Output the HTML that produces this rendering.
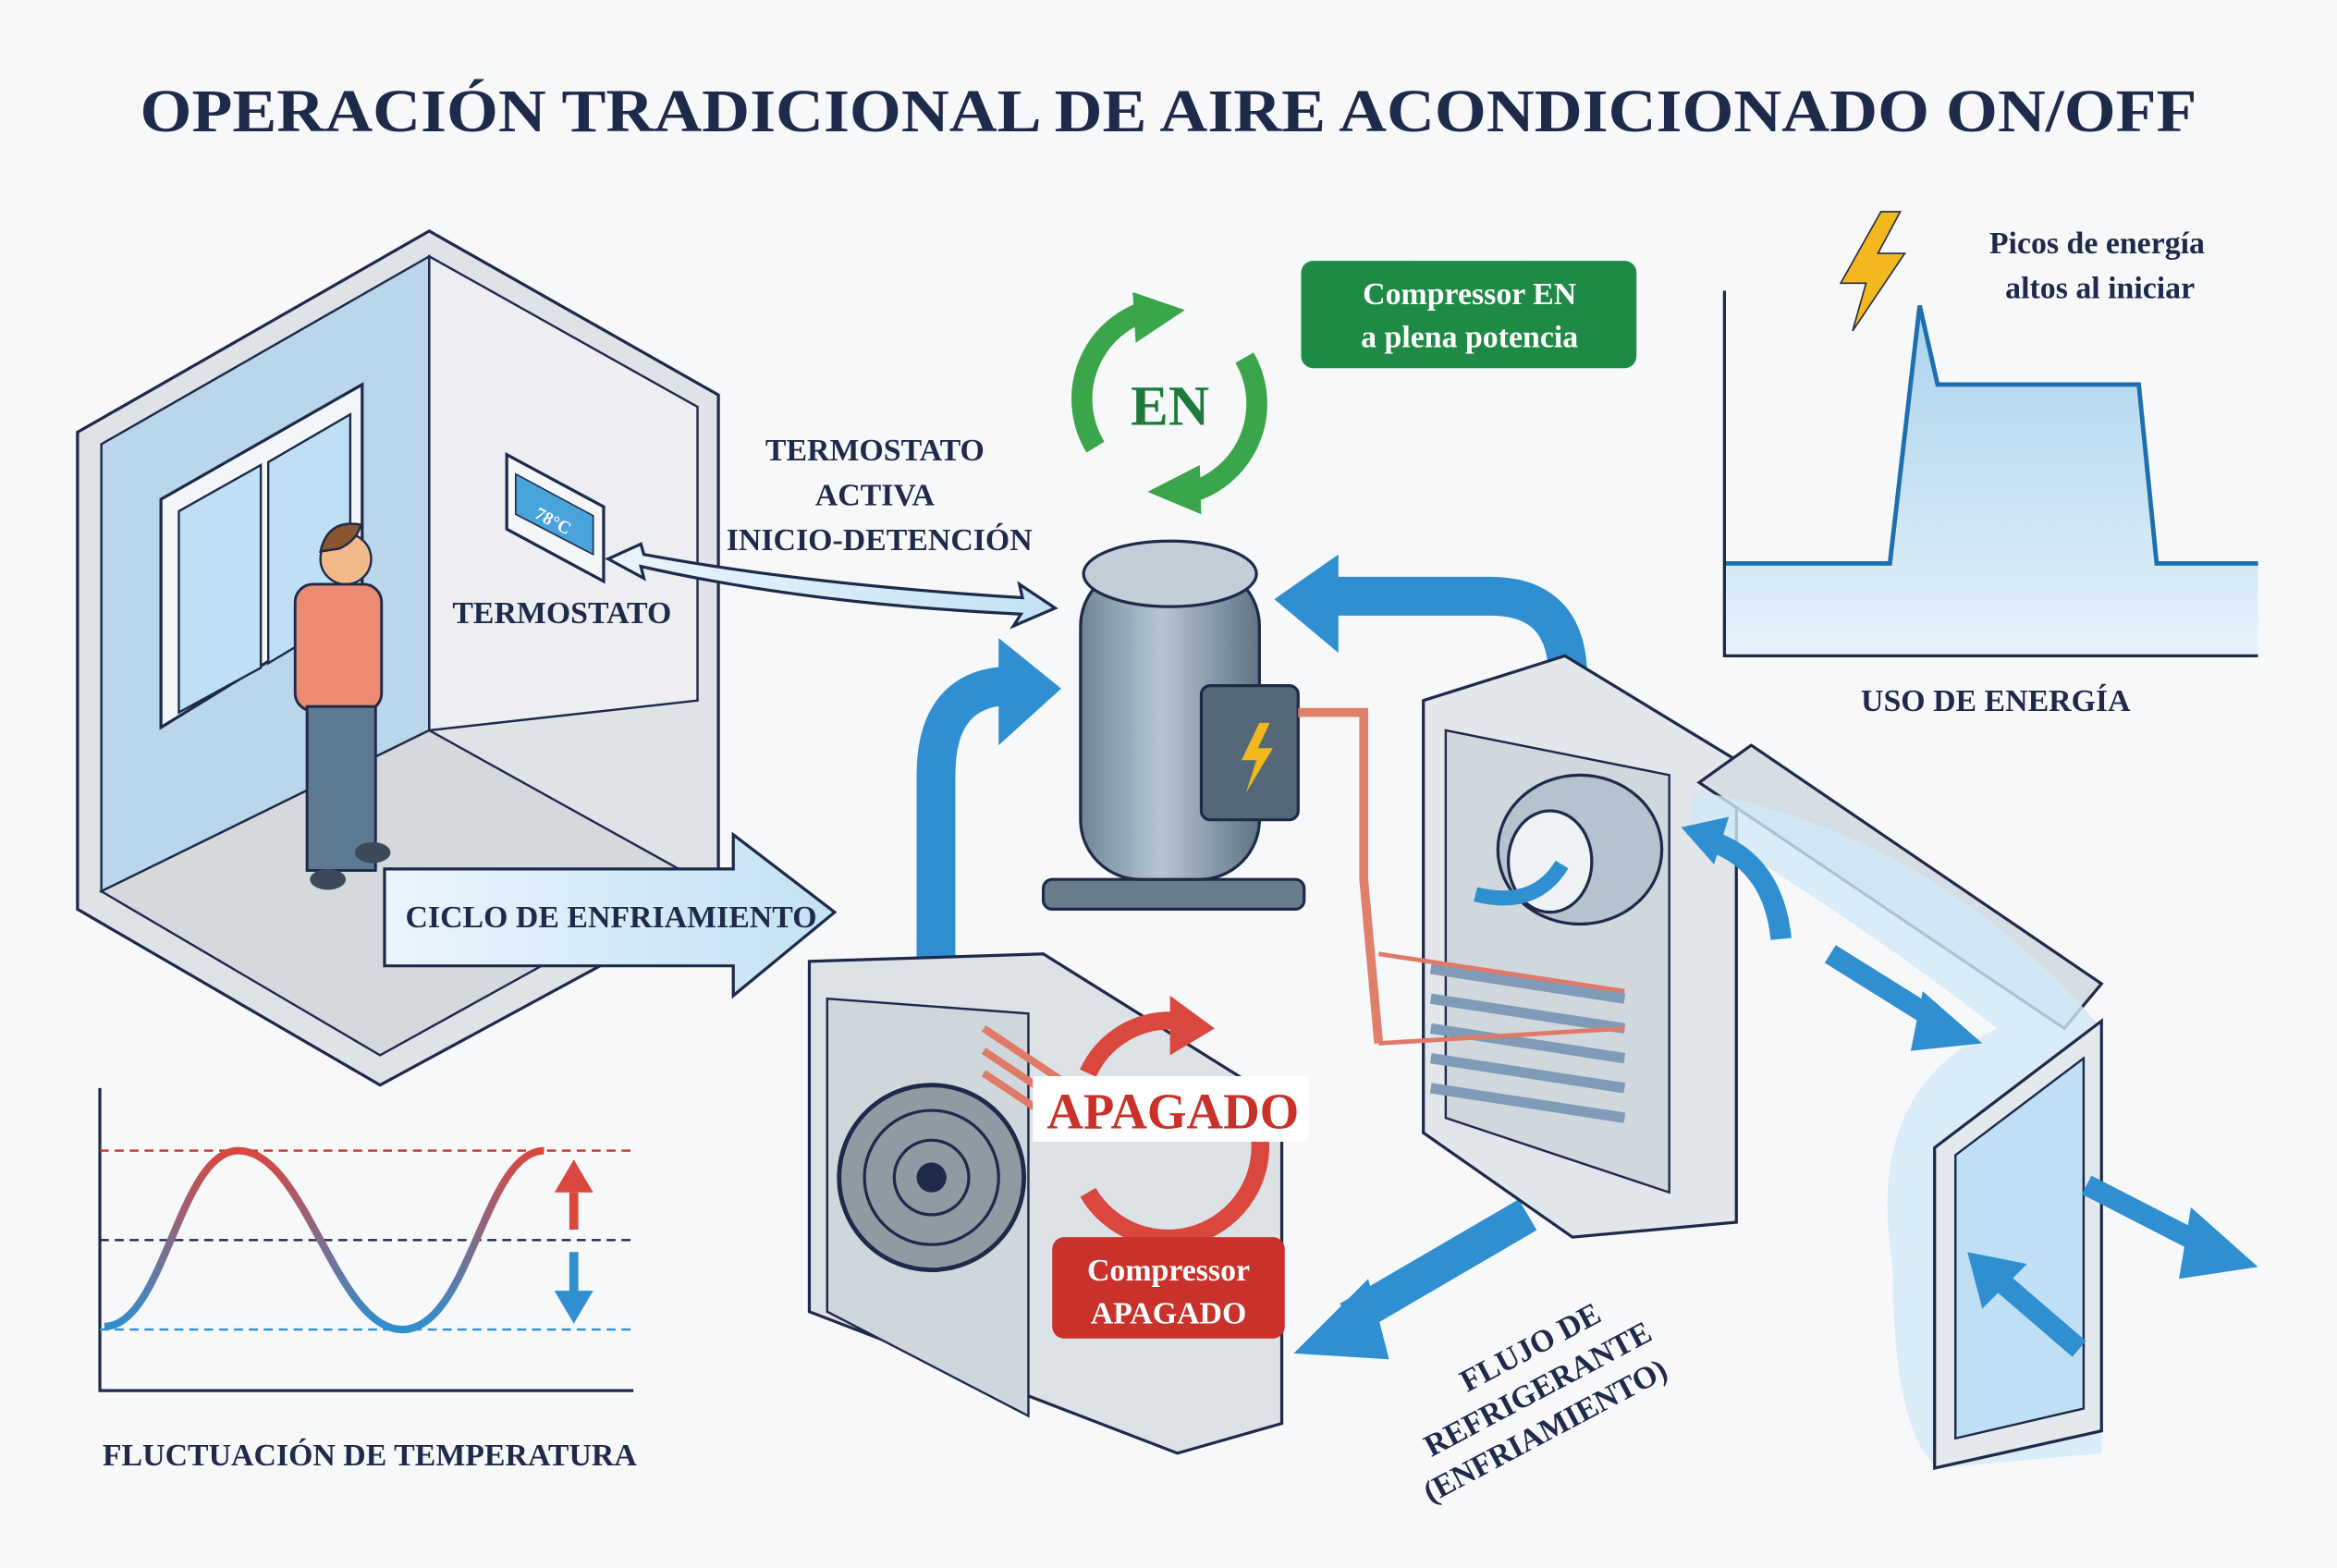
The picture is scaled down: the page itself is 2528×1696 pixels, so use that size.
<!DOCTYPE html>
<html><head><meta charset="utf-8"><style>
html,body{margin:0;padding:0;background:#f7f8fa}
svg{display:block}
text{font-family:"Liberation Serif",serif;font-weight:bold;fill:#1e2a4a}
</style></head><body>
<svg width="2528" height="1696" viewBox="0 0 1568 1052" preserveAspectRatio="none" xmlns="http://www.w3.org/2000/svg">
<defs>
<linearGradient id="eg" x1="0" y1="0" x2="0" y2="1"><stop offset="0" stop-color="#a9d3ec"/><stop offset="1" stop-color="#e6f2fa"/></linearGradient>
<linearGradient id="sw" x1="0" y1="0" x2="0" y2="1"><stop offset="0" stop-color="#d9473f"/><stop offset="1" stop-color="#2f8fd0"/></linearGradient>
<linearGradient id="ar" x1="0" y1="0" x2="1" y2="0"><stop offset="0" stop-color="#eaf5fc"/><stop offset="1" stop-color="#c3e2f4"/></linearGradient>
<linearGradient id="cmp" x1="0" y1="0" x2="1" y2="0"><stop offset="0" stop-color="#6f8596"/><stop offset=".45" stop-color="#b7c6d2"/><stop offset="1" stop-color="#5f7383"/></linearGradient>
<marker id="ah" markerWidth="6" markerHeight="6" refX="3" refY="3" orient="auto"><path d="M0,0 L6,3 L0,6z" fill="#2f8fd0"/></marker>
</defs>
<rect width="1568" height="1052" fill="#f7f8fa"/>
<text x="784" y="88" font-size="41" text-anchor="middle" textLength="1380" lengthAdjust="spacingAndGlyphs">OPERACIÓN TRADICIONAL DE AIRE ACONDICIONADO ON/OFF</text>

<!-- room -->
<polygon points="52,290 288,155 482,265 482,605 255,728 52,610" fill="#dfe3e8" stroke="#1e2a4a" stroke-width="2"/>
<polygon points="68,298 288,172 288,490 68,598" fill="#b9d6ea" stroke="#1e2a4a" stroke-width="1.5"/>
<polygon points="288,172 468,273 468,470 288,490" fill="#eceef1" stroke="#1e2a4a" stroke-width="1.5"/>
<polygon points="68,598 288,490 468,590 255,708" fill="#d5d9de" stroke="#1e2a4a" stroke-width="1.5"/>
<polygon points="108,335 243,258 243,405 108,488" fill="#f3f6f8" stroke="#1e2a4a" stroke-width="2"/>
<polygon points="120,343 175,312 175,448 120,478" fill="#bfe0f4" stroke="#1e2a4a" stroke-width="1.5"/>
<polygon points="180,310 235,278 235,412 180,445" fill="#bfe0f4" stroke="#1e2a4a" stroke-width="1.5"/>
<!-- thermostat -->
<polygon points="340,305 405,340 405,390 340,355" fill="#f5f6f7" stroke="#1e2a4a" stroke-width="2"/>
<polygon points="346,318 398,346 398,372 346,345" fill="#4aa4dc" stroke="#1e2a4a" stroke-width="1"/>
<text x="358" y="347" font-size="12" fill="#fff" style="fill:#fff" transform="rotate(28 358 347)">78°C</text>
<text x="377" y="418" font-size="21" text-anchor="middle">TERMOSTATO</text>
<!-- person -->
<circle cx="232" cy="375" r="17" fill="#f2b98b" stroke="#1e2a4a" stroke-width="1.5"/>
<path d="M215,370 Q220,348 242,352 Q240,362 228,368z" fill="#8a5530" stroke="#1e2a4a" stroke-width="1.5"/>
<rect x="198" y="392" width="58" height="85" rx="12" fill="#ec8a72" stroke="#1e2a4a" stroke-width="1.8"/>
<rect x="206" y="474" width="46" height="110" fill="#5e7a92" stroke="#1e2a4a" stroke-width="1.8"/>
<ellipse cx="220" cy="590" rx="12" ry="7" fill="#3b4a5a"/><ellipse cx="250" cy="572" rx="12" ry="7" fill="#3b4a5a"/>
<!-- ciclo arrow -->
<polygon points="258,583 492,583 492,560 560,612 492,668 492,648 258,648" fill="url(#ar)" stroke="#1e2a4a" stroke-width="2"/>
<text x="410" y="622" font-size="21" text-anchor="middle">CICLO DE ENFRIAMIENTO</text>
<!-- termostato activa -->
<text x="587" y="309" font-size="21" text-anchor="middle">TERMOSTATO</text>
<text x="587" y="339" font-size="21" text-anchor="middle">ACTIVA</text>
<text x="590" y="369" font-size="21" text-anchor="middle">INICIO-DETENCIÓN</text>
<path d="M430,365 L408,375 L432,388 L430,380 Q540,405 685,412 L680,420 L708,408 L684,392 L686,401 Q540,392 432,372z" fill="url(#ar)" stroke="#1e2a4a" stroke-width="2"/>

<!-- EN cycle -->
<path d="M735,300 A62,62 0 0 1 765,210" fill="none" stroke="#3aa54a" stroke-width="14"/>
<polygon points="760,196 795,208 762,230" fill="#3aa54a"/>
<path d="M835,240 A62,62 0 0 1 800,330" fill="none" stroke="#3aa54a" stroke-width="14"/>
<polygon points="806,345 770,330 805,312" fill="#3aa54a"/>
<text x="785" y="285" font-size="38" text-anchor="middle" style="fill:#1d7a3a">EN</text>
<rect x="873" y="175" width="225" height="72" rx="8" fill="#1e8a45"/>
<text x="986" y="204" font-size="21" text-anchor="middle" style="fill:#fff">Compressor EN</text>
<text x="986" y="233" font-size="21" text-anchor="middle" style="fill:#fff">a plena potencia</text>

<!-- compressor -->
<rect x="700" y="590" width="175" height="20" rx="6" fill="#6a7d8c" stroke="#1e2a4a" stroke-width="2"/>
<rect x="725" y="380" width="120" height="210" rx="40" fill="url(#cmp)" stroke="#1e2a4a" stroke-width="2"/>
<ellipse cx="785" cy="385" rx="58" ry="22" fill="#c2cfd9" stroke="#1e2a4a" stroke-width="2"/>
<rect x="806" y="460" width="65" height="90" rx="6" fill="#556878" stroke="#1e2a4a" stroke-width="2"/>
<path d="M845,485 L833,510 L843,510 L836,532 L854,502 L844,502 L852,485z" fill="#f2b81d"/>
<path d="M871,478 L915,478 L915,590 L925,700" fill="none" stroke="#e0806a" stroke-width="6"/>
<!-- blue arrows -->
<path d="M628,662 L628,520 Q628,460 680,460" fill="none" stroke="#2f8fd0" stroke-width="26" stroke-linejoin="round"/>
<polygon points="670,428 712,462 670,500" fill="#2f8fd0"/>
<path d="M1052,505 L1052,455 Q1052,400 1000,400 L885,400" fill="none" stroke="#2f8fd0" stroke-width="26"/>
<polygon points="898,372 855,402 898,438" fill="#2f8fd0"/>
<line x1="1025" y1="815" x2="905" y2="885" stroke="#2f8fd0" stroke-width="24"/>
<polygon points="918,858 868,908 932,912" fill="#2f8fd0"/>
<text x="1030" y="910" font-size="21" text-anchor="middle" transform="rotate(-28 1030 910)">FLUJO DE</text>
<text x="1035" y="938" font-size="21" text-anchor="middle" transform="rotate(-28 1035 938)">REFRIGERANTE</text>
<text x="1040" y="966" font-size="21" text-anchor="middle" transform="rotate(-28 1040 966)">(ENFRIAMIENTO)</text>

<!-- outdoor unit -->
<polygon points="543,645 700,640 860,740 860,955 790,975 543,880" fill="#dde2e7" stroke="#1e2a4a" stroke-width="2"/>
<polygon points="555,670 690,680 690,950 555,880" fill="#cfd6dc" stroke="#1e2a4a" stroke-width="1.5"/>
<circle cx="625" cy="790" r="62" fill="#8f9aa3" stroke="#1e2a4a" stroke-width="3"/>
<circle cx="625" cy="790" r="45" fill="none" stroke="#1e2a4a" stroke-width="2"/>
<circle cx="625" cy="790" r="25" fill="none" stroke="#1e2a4a" stroke-width="2"/>
<circle cx="625" cy="790" r="10" fill="#1e2a4a"/>
<path d="M660,690 L720,730 M660,705 L720,745 M660,720 L720,760" stroke="#e07a68" stroke-width="5"/>
<!-- APAGADO circle -->
<path d="M730,720 A60,60 0 0 1 790,685" fill="none" stroke="#d9473f" stroke-width="12"/>
<polygon points="785,668 815,690 785,708" fill="#d9473f"/>
<path d="M845,760 A62,62 0 0 1 730,800" fill="none" stroke="#d9473f" stroke-width="12"/>
<rect x="693" y="722" width="185" height="44" fill="#fff"/>
<text x="787" y="757" font-size="34" text-anchor="middle" style="fill:#c8322b">APAGADO</text>
<rect x="706" y="830" width="156" height="68" rx="8" fill="#c8322b"/>
<text x="784" y="859" font-size="21" text-anchor="middle" style="fill:#fff">Compressor</text>
<text x="784" y="888" font-size="21" text-anchor="middle" style="fill:#fff">APAGADO</text>

<!-- indoor unit -->
<polygon points="955,470 1050,440 1165,510 1165,820 1055,830 955,760" fill="#e3e7eb" stroke="#1e2a4a" stroke-width="2"/>
<polygon points="970,490 1120,520 1120,800 970,750" fill="#d0d8de" stroke="#1e2a4a" stroke-width="1.5"/>
<path d="M960,650 L1090,670 M960,670 L1090,690 M960,690 L1090,710 M960,710 L1090,730 M960,730 L1090,750" stroke="#7f9bb8" stroke-width="7"/>
<path d="M925,640 L1090,665 M925,700 L1090,690" stroke="#e07a68" stroke-width="3" fill="none"/>
<ellipse cx="1060" cy="570" rx="55" ry="50" fill="#b5c3ce" stroke="#1e2a4a" stroke-width="2"/>
<ellipse cx="1040" cy="578" rx="28" ry="34" fill="#eef2f5" stroke="#1e2a4a" stroke-width="2"/>
<path d="M990,600 Q1030,610 1048,580" fill="none" stroke="#2f8fd0" stroke-width="10"/>
<!-- duct -->
<polygon points="1140,525 1175,500 1410,660 1385,690" fill="#d6dde3" stroke="#1e2a4a" stroke-width="2"/>
<path d="M1135,550 Q1250,620 1340,690 Q1250,730 1270,850 Q1270,960 1300,985 L1410,975 L1410,690 Q1300,560 1135,530z" fill="#d2e9f6" opacity=".8"/>
<polygon points="1298,770 1410,685 1410,960 1298,985" fill="#e4e9ee" stroke="#1e2a4a" stroke-width="2"/>
<polygon points="1312,775 1398,710 1398,945 1312,965" fill="#bfe0f4" stroke="#1e2a4a" stroke-width="1.5"/>
<line x1="1228" y1="640" x2="1300" y2="685" stroke="#2f8fd0" stroke-width="14"/><polygon points="1290,665 1330,700 1282,705" fill="#2f8fd0"/>
<line x1="1400" y1="795" x2="1478" y2="835" stroke="#2f8fd0" stroke-width="14"/><polygon points="1470,810 1515,850 1462,858" fill="#2f8fd0"/>
<line x1="1395" y1="905" x2="1345" y2="862" stroke="#2f8fd0" stroke-width="14"/><polygon points="1320,840 1360,848 1330,878" fill="#2f8fd0"/>
<path d="M1195,630 Q1190,580 1150,565" fill="none" stroke="#2f8fd0" stroke-width="14"/><polygon points="1128,555 1160,548 1150,580" fill="#2f8fd0"/>

<!-- energy chart -->
<path d="M1157,378 L1268,378 L1288,205 L1300,258 L1435,258 L1447,378 L1515,378 L1515,440 L1157,440z" fill="url(#eg)"/>
<path d="M1157,378 L1268,378 L1288,205 L1300,258 L1435,258 L1447,378 L1515,378" fill="none" stroke="#1f6fb0" stroke-width="3"/>
<path d="M1157,195 L1157,440 L1515,440" fill="none" stroke="#1e2a4a" stroke-width="2"/>
<path d="M1262,142 L1235,190 L1252,190 L1243,222 L1278,170 L1260,170 L1275,142z" fill="#f2b81d" stroke="#1e2a4a" stroke-width="1"/>
<text x="1407" y="170" font-size="21" text-anchor="middle">Picos de energía</text>
<text x="1409" y="200" font-size="21" text-anchor="middle">altos al iniciar</text>
<text x="1339" y="477" font-size="21" text-anchor="middle">USO DE ENERGÍA</text>

<!-- temperature chart -->
<path d="M67,730 L67,933 L425,933" fill="none" stroke="#1e2a4a" stroke-width="2"/>
<line x1="67" y1="772" x2="425" y2="772" stroke="#c8322b" stroke-width="1.5" stroke-dasharray="6,4"/>
<line x1="67" y1="832" x2="425" y2="832" stroke="#1e2a4a" stroke-width="1.5" stroke-dasharray="6,4"/>
<line x1="67" y1="892" x2="425" y2="892" stroke="#2f8fd0" stroke-width="1.5" stroke-dasharray="6,4"/>
<path d="M70,890 C110,890 120,772 160,772 C205,772 225,892 270,892 C315,892 325,772 365,772" fill="none" stroke="url(#sw)" stroke-width="5"/>
<line x1="385" y1="800" x2="385" y2="825" stroke="#d9473f" stroke-width="6"/><polygon points="372,800 385,778 398,800" fill="#d9473f"/>
<line x1="385" y1="840" x2="385" y2="868" stroke="#2f8fd0" stroke-width="6"/><polygon points="372,866 385,888 398,866" fill="#2f8fd0"/>
<text x="248" y="983" font-size="21" text-anchor="middle">FLUCTUACIÓN DE TEMPERATURA</text>
</svg>
</body></html>
